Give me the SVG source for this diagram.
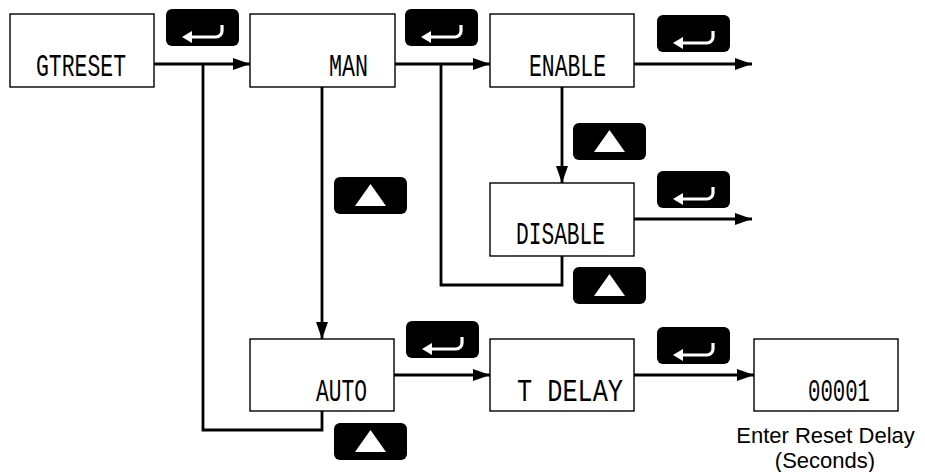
<svg xmlns="http://www.w3.org/2000/svg" xmlns:xlink="http://www.w3.org/1999/xlink" width="925" height="472" viewBox="0 0 925 472">
<style>
.box{fill:#fff;stroke:#000;stroke-width:1.4}
.lcd{font-family:"Liberation Mono","DejaVu Sans Mono",monospace;font-size:24px;fill:#000}
.conn{fill:none;stroke:#000;stroke-width:2.8}
.btn{fill:#000}
.cap{font-family:"Liberation Sans",Arial,sans-serif;font-size:22px;fill:#000;text-anchor:middle}
</style>
<defs>
<marker id="ah" viewBox="0 0 17 12" refX="17" refY="6" markerWidth="17" markerHeight="12" markerUnits="userSpaceOnUse" orient="auto">
<path d="M0,0 L17,6 L0,12 z" fill="#000"/>
</marker>
<g id="enter">
<rect class="btn" x="0" y="0" width="73" height="37" rx="6"/>
<path d="M24,28 H50 A6,6 0 0 0 56,22 V16" fill="none" stroke="#fff" stroke-width="3.2"/>
<path d="M16,28 L26,22 L26,34 z" fill="#fff"/>
</g>
<g id="up">
<rect class="btn" x="0" y="0" width="73" height="37" rx="6"/>
<path d="M36.5,7 L52,29 L21,29 z" fill="#fff"/>
</g>
</defs>
<rect width="925" height="472" fill="#fff"/>
<g id="connectors">
<path class="conn" d="M154,64 H250" marker-end="url(#ah)"/>
<path class="conn" d="M322,411 V430 H203 V64"/>
<path class="conn" d="M395,64 H490" marker-end="url(#ah)"/>
<path class="conn" d="M562,256 V285 H441 V64"/>
<path class="conn" d="M322,87 V339" marker-end="url(#ah)"/>
<path class="conn" d="M562,87 V183" marker-end="url(#ah)"/>
<path class="conn" d="M634,64 H752" marker-end="url(#ah)"/>
<path class="conn" d="M634,219 H752" marker-end="url(#ah)"/>
<path class="conn" d="M394,375 H490" marker-end="url(#ah)"/>
<path class="conn" d="M634,375 H754" marker-end="url(#ah)"/>
</g>
<g id="buttons">
<use xlink:href="#enter" x="166" y="9"/>
<use xlink:href="#enter" x="405" y="9"/>
<use xlink:href="#enter" x="657" y="15"/>
<use xlink:href="#enter" x="657" y="171"/>
<use xlink:href="#enter" x="406" y="321"/>
<use xlink:href="#enter" x="657" y="327"/>
<use xlink:href="#up" x="334" y="177"/>
<use xlink:href="#up" x="573" y="123"/>
<use xlink:href="#up" x="573" y="267"/>
<use xlink:href="#up" x="334" y="423"/>
</g>
<g id="node-gtreset">
<rect class="box" x="10" y="14" width="144" height="73"/>
<text class="lcd" transform="translate(36,76) scale(1,1.3)" textLength="90" lengthAdjust="spacingAndGlyphs">GTRESET</text>
</g>
<g id="node-man">
<rect class="box" x="250" y="14" width="145" height="73"/>
<text class="lcd" transform="translate(329,76) scale(1,1.3)" textLength="39" lengthAdjust="spacingAndGlyphs">MAN</text>
</g>
<g id="node-enable">
<rect class="box" x="490" y="14" width="144" height="73"/>
<text class="lcd" transform="translate(529,76) scale(1,1.3)" textLength="77" lengthAdjust="spacingAndGlyphs">ENABLE</text>
</g>
<g id="node-disable">
<rect class="box" x="490" y="183" width="144" height="73"/>
<text class="lcd" transform="translate(516,244) scale(1,1.3)" textLength="89" lengthAdjust="spacingAndGlyphs">DISABLE</text>
</g>
<g id="node-auto">
<rect class="box" x="250" y="339" width="144" height="72"/>
<text class="lcd" transform="translate(316,401) scale(1,1.3)" textLength="51" lengthAdjust="spacingAndGlyphs">AUTO</text>
</g>
<g id="node-tdelay">
<rect class="box" x="490" y="339" width="144" height="72"/>
<text class="lcd" transform="translate(517,401) scale(1,1.3)" textLength="106" lengthAdjust="spacingAndGlyphs">T DELAY</text>
</g>
<g id="node-value">
<rect class="box" x="754" y="339" width="144" height="72"/>
<text class="lcd" transform="translate(808,401) scale(1,1.3)" textLength="62" lengthAdjust="spacingAndGlyphs">00001</text>
<text class="cap" x="825.5" y="443">Enter Reset Delay</text>
<text class="cap" x="825" y="468">(Seconds)</text>
</g>
</svg>
